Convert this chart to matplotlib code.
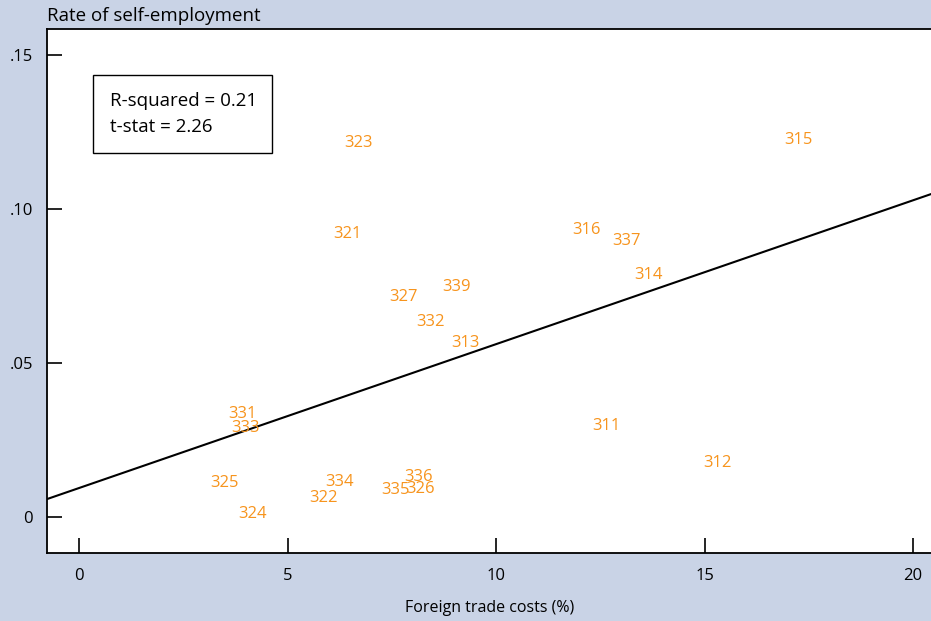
import numpy as np
import matplotlib.pyplot as plt
from matplotlib.patches import Rectangle

# industry codes and their (trade cost, self-employment) positions
codes = ["323", "315", "321", "316", "337", "314", "339", "327", "332", "313",
         "331", "333", "311", "312", "325", "334", "322", "336", "335", "326", "324"]
trade_costs = [6.69, 17.24, 6.43, 12.18, 13.12, 13.65, 9.04, 7.79, 8.42, 9.26,
               3.91, 4.00, 12.64, 15.32, 3.48, 6.24, 5.85, 8.13, 7.58, 8.18, 4.17]
self_emp = [0.1221, 0.1231, 0.0925, 0.0938, 0.0903, 0.0792, 0.0753, 0.0721, 0.0640, 0.0571,
            0.0341, 0.0295, 0.0302, 0.0182, 0.0117, 0.0120, 0.0068, 0.0136, 0.0094, 0.0097, 0.0016]

# fitted line
intercept = 0.0094
slope = 0.00467

bg = "#c9d3e6"
orange = "#f7941d"

plt.rcParams['font.family'] = ['Open Sans', 'DejaVu Sans']

fig = plt.figure(figsize=(9.31, 6.21), dpi=100, facecolor=bg)
ax = fig.add_axes([47 / 931, 1 - 553 / 621, 1 - 47 / 931, (553 - 29) / 621])
ax.set_facecolor("white")

for c, x, y in zip(codes, trade_costs, self_emp):
    ax.text(x, y, c, color=orange, fontsize=12, ha="center", va="center_baseline")

xl = np.array([-0.77, 20.43])
ax.plot(xl, intercept + slope * xl, color="black", lw=1.5)

ax.set_xlim(-0.77, 20.43)
ax.set_ylim(-0.0117, 0.1584)
ax.set_xticks([0, 5, 10, 15, 20])
ax.set_xticklabels(["0", "5", "10", "15", "20"])
ax.set_yticks([0, 0.05, 0.10, 0.15])
ax.set_yticklabels(["0", ".05", ".10", ".15"])
ax.tick_params(axis="both", direction="in", length=11, width=1.2, labelsize=12, color="black")
ax.tick_params(axis="x", pad=11)
ax.tick_params(axis="y", pad=10)
for s in ["left", "top", "bottom"]:
    ax.spines[s].set_linewidth(1.3)
ax.spines["right"].set_visible(False)

# stats box
ax.add_patch(Rectangle((0.052, 0.763), 0.2025, 0.149, transform=ax.transAxes,
                       facecolor="white", edgecolor="black", lw=1, zorder=3))
ax.text(0.071, 0.863, "R-squared = 0.21", transform=ax.transAxes, fontsize=13.5,
        ha="left", va="center", zorder=4)
ax.text(0.071, 0.813, "t-stat = 2.26", transform=ax.transAxes, fontsize=13.5,
        ha="left", va="center", zorder=4)

fig.text(47 / 931, 1 - 16 / 621, "Rate of self-employment", fontsize=13.5, ha="left", va="center")
fig.text(490 / 931, 1 - 608 / 621, "Foreign trade costs (%)", fontsize=11.5, ha="center", va="center")

fig.savefig("out.png", dpi=100, facecolor=bg)
